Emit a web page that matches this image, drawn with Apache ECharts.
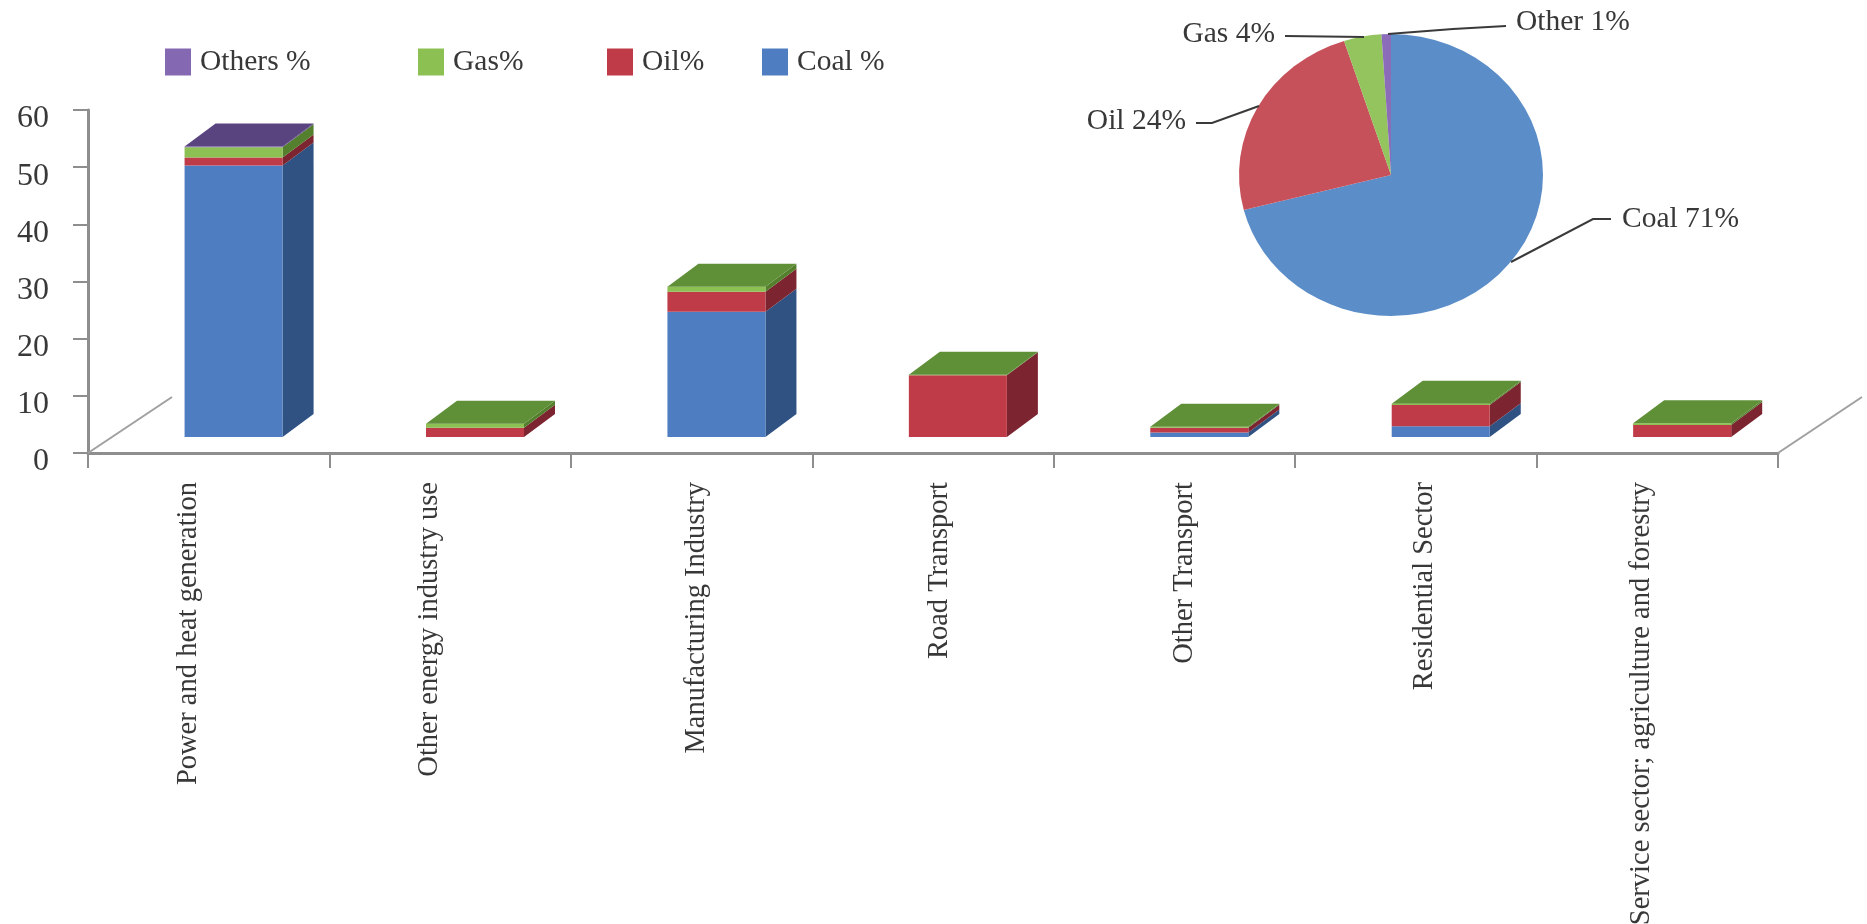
<!DOCTYPE html>
<html>
<head>
<meta charset="utf-8">
<title>CO2 emissions by sector and fuel</title>
<style>html,body{margin:0;padding:0;background:#fff}#chart{width:1867px;height:924px}</style>
<script src="https://cdn.jsdelivr.net/npm/echarts@6/dist/echarts.min.js"></script>
</head>
<body>
<div id="chart"></div>
<script>
// Sector shares, stacked from the floor upward
const categories = ['Power and heat generation', 'Other energy industry use', 'Manufacturing Industry', 'Road Transport', 'Other Transport', 'Residential Sector', 'Service sector; agriculture and forestry'];
const coalValues = [47.5, 0, 21.9, 0, 0.8, 1.9, 0];
const oilValues = [1.4, 1.6, 3.5, 10.8, 0.8, 3.7, 2.1];
const gasValues = [1.8, 0.7, 0.9, 0.1, 0.2, 0.2, 0.3];
const othersValues = [0.1, 0, 0, 0, 0, 0, 0];
const yTicks = { min: 0, max: 60, interval: 10 };

// Overall fuel mix
const pieNames = ['Coal', 'Oil', 'Gas', 'Other'];
const pieValues = [71, 24, 4, 1];

// Look of the stacked columns and the legend
const fuels = [
  { name: 'Coal %', values: coalValues, front: '#4f7dc2', side: '#2f5283', top: '#34598f', legendLeft: 762 },
  { name: 'Oil%', values: oilValues, front: '#bf3b48', side: '#7c2430', top: '#8a2a35', legendLeft: 607 },
  { name: 'Gas%', values: gasValues, front: '#8dc053', side: '#54802e', top: '#5f8f36', legendLeft: 418 },
  { name: 'Others %', values: othersValues, front: '#8468b2', side: '#54407c', top: '#5a4480', legendLeft: 165 }
];
const serif = '"Liberation Serif", "DejaVu Serif", serif';
const inkColor = '#383838';
const axisColor = '#8e8e8e';
const barShare = 0.406, barShift = 0.103, depthX = 31, depthY = 23, floorLift = 16;
const floorX = 84, floorY = 56;
// Sideways nudge of each rotated category label
const labelNudge = [-20, -21, 5, 7, 10, 9, -16];

// Pie layout: an ellipse with leader lines out to its labels
const pieBox = { cx: 1391, cy: 175, rx: 152, ry: 141 };
const pieColors = ['#5b8dc9', '#c6515b', '#93c45d', '#8b6cb8'];
const pieLeaders = [
  [[1511, 262], [1593, 219], [1611, 219]],
  [[1259, 106], [1212, 123], [1196, 123]],
  [[1364, 37], [1285, 36]],
  [[1388, 34], [1453, 29], [1506, 26]]
];
const pieLabels = [
  { x: 1622, y: 219, align: 'left' },
  { x: 1186, y: 121, align: 'right' },
  { x: 1275, y: 34, align: 'right' },
  { x: 1516, y: 22, align: 'left' }
];

function stackBelow(seriesIndex, i) {
  let sum = 0;
  for (let s = 0; s < seriesIndex; s++) sum += fuels[s].values[i];
  return sum;
}

function isTopmost(seriesIndex, i) {
  for (let s = seriesIndex + 1; s < fuels.length; s++) if (fuels[s].values[i] > 0) return false;
  return true;
}

function renderColumn(seriesIndex, params, api) {
  const fuel = fuels[seriesIndex];
  const i = api.value(0);
  const v = api.value(1);
  if (!v) return null;
  const base = stackBelow(seriesIndex, i);
  const band = api.size([1, 0])[0];
  const centre = api.coord([i, 0])[0] + band * barShift;
  const w = band * barShare;
  const x0 = centre - w / 2, x1 = centre + w / 2;
  const yB = api.coord([i, base])[1] - floorLift;
  const yT = api.coord([i, base + v])[1] - floorLift;
  const children = [
    { type: 'polygon', shape: { points: [[x1, yB], [x1 + depthX, yB - depthY], [x1 + depthX, yT - depthY], [x1, yT]] }, style: { fill: fuel.side } },
    { type: 'rect', shape: { x: x0, y: yT, width: w, height: yB - yT }, style: { fill: fuel.front } }
  ];
  if (isTopmost(seriesIndex, i)) {
    children.push({ type: 'polygon', shape: { points: [[x0, yT], [x0 + depthX, yT - depthY], [x1 + depthX, yT - depthY], [x1, yT]] }, style: { fill: fuel.top } });
  }
  return { type: 'group', children };
}

// Slanted floor edges at both ends of the category axis
function renderFloorEdge(params, api) {
  const g = params.coordSys;
  const x = api.value(0) === 0 ? g.x : g.x + g.width;
  const y = g.y + g.height;
  return { type: 'line', shape: { x1: x, y1: y, x2: x + floorX, y2: y - floorY }, style: { stroke: '#a0a0a0', lineWidth: 2 } };
}

function renderSlice(params, api) {
  const i = params.dataIndex;
  const total = pieValues.reduce((a, b) => a + b, 0);
  const before = pieValues.slice(0, i).reduce((a, b) => a + b, 0);
  const start = -Math.PI / 2 + before / total * Math.PI * 2;
  const end = start + api.value(0) / total * Math.PI * 2;
  const label = pieLabels[i];
  return {
    type: 'group',
    children: [
      {
        type: 'sector', x: pieBox.cx, y: pieBox.cy, scaleY: pieBox.ry / pieBox.rx,
        shape: { cx: 0, cy: 0, r: pieBox.rx, r0: 0, startAngle: start, endAngle: end, clockwise: true },
        style: { fill: pieColors[i] }
      },
      { type: 'polyline', shape: { points: pieLeaders[i] }, style: { stroke: '#3a3a3a', lineWidth: 2, fill: null } },
      {
        type: 'text', x: label.x, y: label.y,
        style: { text: pieNames[i] + ' ' + api.value(0) + '%', font: '29.5px ' + serif, fill: inkColor, align: label.align, verticalAlign: 'middle' }
      }
    ]
  };
}

const rich = {
  tick: { fontFamily: serif, fontSize: 32, color: inkColor, padding: [18, 0, 0, 0] }
};
labelNudge.forEach((n, i) => {
  rich['c' + i] = {
    fontFamily: serif, fontSize: 28.5, color: inkColor,
    padding: n < 0 ? [0, 0, -2 * n, 0] : [2 * n, 0, 0, 0]
  };
});

const chart = echarts.init(document.getElementById('chart'), null, { renderer: 'canvas' });
chart.setOption({
  animation: false,
  backgroundColor: '#ffffff',
  legend: fuels.map(f => ({
    data: [f.name], left: f.legendLeft, top: 47, padding: 0, icon: 'rect', itemWidth: 26, itemHeight: 27,
    selectedMode: false,
    textStyle: { fontFamily: serif, fontSize: 29.5, color: inkColor, padding: [6, 0, 0, 4] }
  })),
  grid: { left: 88, top: 110, width: 1690, height: 343, outerBoundsMode: 'none' },
  xAxis: {
    type: 'category', data: categories,
    axisLine: { lineStyle: { color: axisColor, width: 3 } },
    axisTick: { show: true, alignWithLabel: false, interval: 0, length: 15, lineStyle: { color: axisColor, width: 2 } },
    axisLabel: {
      rotate: 90, interval: 0, margin: 29, hideOverlap: false,
      formatter: (value, idx) => '{c' + idx + '|' + value + '}',
      rich
    }
  },
  yAxis: {
    type: 'value', min: yTicks.min, max: yTicks.max, interval: yTicks.interval,
    splitLine: { show: false },
    axisLine: { show: true, lineStyle: { color: axisColor, width: 3 } },
    axisTick: { show: true, length: 15, lineStyle: { color: axisColor, width: 2 } },
    axisLabel: { margin: 39, formatter: '{tick|{value}}', rich }
  },
  series: [
    { type: 'custom', name: 'floor', silent: true, data: [[0], [1]], encode: { x: -1, y: -1 }, renderItem: renderFloorEdge },
    ...fuels.map((f, s) => ({
      type: 'custom', name: f.name, silent: true, clip: false,
      itemStyle: { color: f.front },
      encode: { x: 0, y: 1 },
      data: f.values.map((v, i) => [i, v]),
      renderItem: (params, api) => renderColumn(s, params, api)
    })),
    {
      type: 'custom', name: 'mix', coordinateSystem: 'none', silent: true,
      data: pieValues.map(v => [v]),
      renderItem: renderSlice
    }
  ]
});
</script>
</body>
</html>
